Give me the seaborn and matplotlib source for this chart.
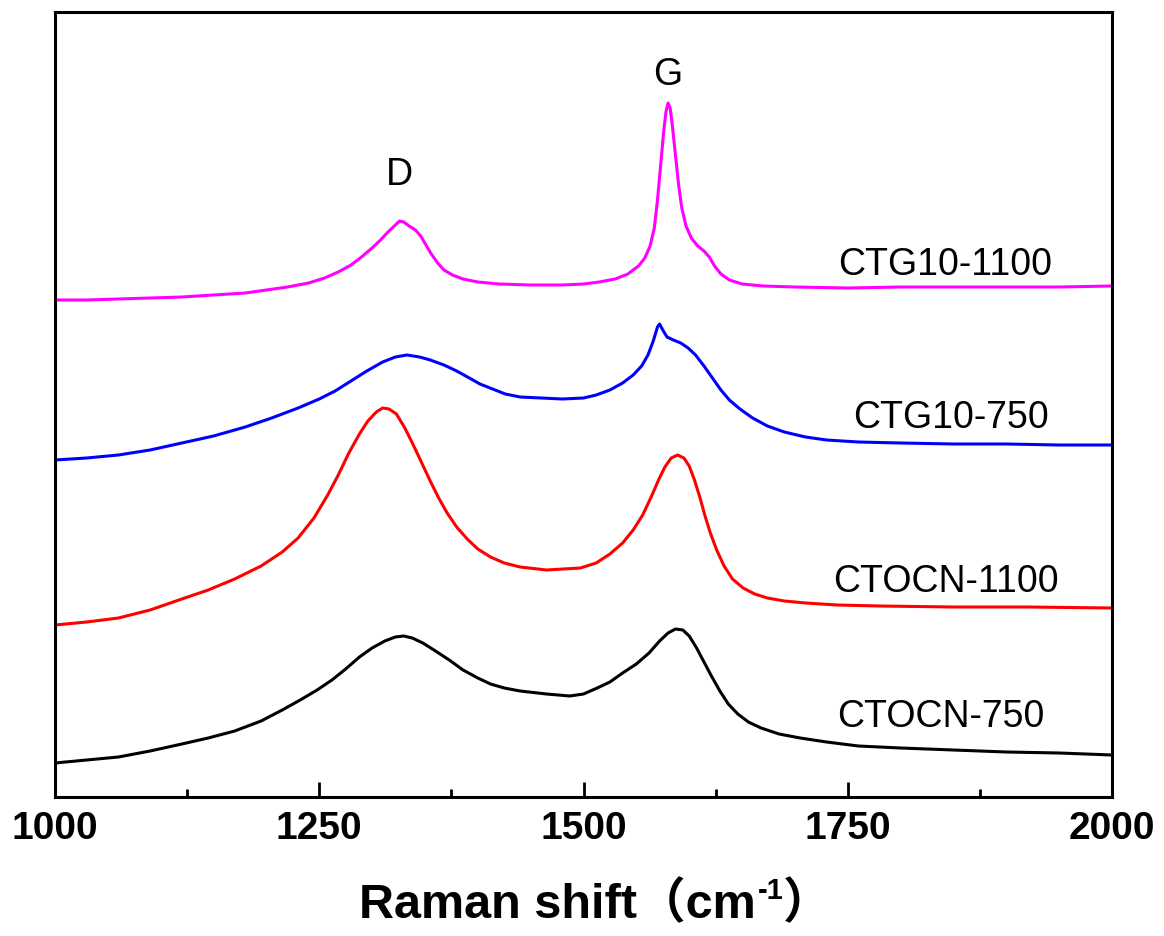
import numpy as np
import pandas as pd
import matplotlib
matplotlib.use("Agg")
import matplotlib.pyplot as plt
import seaborn as sns
from matplotlib.ticker import MultipleLocator, NullLocator

# ---------------- data (intensity in a.u. with stacking offsets) -------------
wn_ctg1100 = [1000, 1030, 1060, 1090, 1120, 1150, 1180, 1200, 1220, 1240,
              1255, 1268, 1280, 1290, 1300, 1308, 1315, 1321, 1326, 1330,
              1335, 1341, 1346, 1351, 1356, 1362, 1368, 1376, 1386, 1400,
              1420, 1450, 1480, 1500, 1515, 1530, 1542, 1552, 1558, 1563,
              1567, 1570, 1573, 1576, 1578, 1580, 1582, 1584, 1587, 1590,
              1593, 1597, 1602, 1608, 1614, 1619, 1624, 1630, 1638, 1650,
              1670, 1700, 1750, 1800, 1850, 1900, 1950, 2000]
int_ctg1100 = [497, 497, 498, 499, 500, 502, 504, 507, 510, 514,
               519, 525, 532, 540, 549, 557, 565, 571, 576, 575,
               571, 567, 561, 552, 543, 534, 527, 522, 518, 515,
               513, 512, 512, 513, 515, 518, 523, 531, 539, 551,
               569, 597, 632, 667, 685, 694, 689, 672, 642, 612,
               589, 571, 559, 551, 546, 540, 531, 523, 517, 513,
               511, 510, 509, 510, 510, 510, 510, 511]

wn_ctg750 = [1000, 1030, 1060, 1090, 1120, 1150, 1180, 1205, 1230, 1250,
             1265, 1280, 1295, 1310, 1322, 1333, 1345, 1355, 1368, 1380,
             1392, 1402, 1414, 1426, 1440, 1460, 1480, 1500, 1512, 1525,
             1537, 1547, 1555, 1561, 1566, 1570, 1572, 1575, 1579, 1585,
             1592, 1599, 1606, 1614, 1622, 1630, 1638, 1648, 1660, 1674,
             1690, 1710, 1730, 1760, 1800, 1850, 1900, 1950, 2000]
int_ctg750 = [337, 339, 342, 347, 354, 361, 370, 379, 389, 398,
              406, 416, 426, 435, 440, 442, 440, 437, 432, 426,
              419, 413, 408, 403, 400, 399, 398, 399, 402, 407,
              414, 422, 431, 442, 456, 470, 473, 467, 460, 457,
              454, 449, 442, 431, 419, 407, 397, 388, 379, 371,
              365, 360, 357, 355, 354, 353, 353, 352, 352]

wn_ctocn1100 = [1000, 1030, 1060, 1090, 1120, 1145, 1170, 1195, 1215, 1230,
                1245, 1258, 1268, 1278, 1288, 1296, 1304, 1310, 1316, 1323,
                1331, 1339, 1347, 1355, 1363, 1371, 1380, 1390, 1400, 1412,
                1425, 1440, 1465, 1497, 1512, 1525, 1537, 1547, 1556, 1564,
                1571, 1577, 1583, 1589, 1595, 1600, 1605, 1610, 1615, 1620,
                1626, 1633, 1641, 1651, 1662, 1674, 1690, 1710, 1740, 1780,
                1850, 1920, 2000]
int_ctocn1100 = [172, 175, 179, 187, 198, 207, 218, 231, 245, 259,
                 279, 302, 322, 344, 363, 376, 385, 389, 388, 383,
                 369, 352, 334, 316, 299, 284, 270, 258, 248, 240,
                 234, 230, 227, 229, 234, 243, 254, 267, 282, 300,
                 317, 330, 339, 342, 339, 331, 317, 300, 281, 264,
                 247, 231, 218, 209, 203, 199, 196, 194, 192, 191,
                 190, 190, 189]

wn_ctocn750 = [1000, 1030, 1060, 1090, 1120, 1145, 1170, 1195, 1215, 1232,
               1248, 1262, 1275, 1288, 1300, 1312, 1322, 1330, 1338, 1348,
               1360, 1373, 1386, 1400, 1412, 1425, 1440, 1465, 1487, 1500,
               1513, 1525, 1537, 1550, 1562, 1572, 1580, 1587, 1594, 1600,
               1607, 1614, 1621, 1629, 1637, 1646, 1656, 1668, 1685, 1705,
               1730, 1760, 1800, 1850, 1900, 1950, 2000]
int_ctocn750 = [34, 37, 40, 46, 53, 59, 66, 76, 87, 97,
                107, 117, 128, 140, 149, 156, 160, 161, 159, 154,
                146, 137, 127, 119, 113, 109, 106, 103, 101, 103,
                109, 115, 124, 133, 144, 156, 164, 168, 167, 161,
                149, 135, 121, 106, 93, 83, 75, 69, 63, 59,
                55, 51, 49, 47, 45, 44, 42]

samples = ["CTG10-1100", "CTG10-750", "CTOCN-1100", "CTOCN-750"]
colors = ["#FF00FF", "#0000FF", "#FF0000", "#000000"]
label_x = [1741, 1755, 1736, 1740]
label_y = [532, 379, 215, 80]
xticks = [1000, 1250, 1500, 1750, 2000]
peak_names = ["D", "G"]
peak_x = [1326, 1580]
peak_y = [622, 722]

# ---------------- build long table ----------------
frames = []
for name, wn, inten in zip(samples,
                           [wn_ctg1100, wn_ctg750, wn_ctocn1100, wn_ctocn750],
                           [int_ctg1100, int_ctg750, int_ctocn1100, int_ctocn750]):
    frames.append(pd.DataFrame({"wn": wn, "intensity": inten, "sample": name}))
df = pd.concat(frames, ignore_index=True)

# ---------------- style ----------------
sns.set_style("ticks")
plt.rcParams["font.family"] = ["Liberation Sans", "Noto Sans CJK SC", "DejaVu Sans"]
plt.rcParams["text.color"] = "black"
plt.rcParams["axes.labelcolor"] = "black"
plt.rcParams["xtick.color"] = "black"

fig = plt.figure(figsize=(11.64, 9.36), dpi=100)
ax = fig.add_axes([55 / 1164, 1 - 797 / 936, (1112 - 55) / 1164, (797 - 12) / 936])

sns.lineplot(data=df, x="wn", y="intensity", hue="sample", hue_order=samples,
             palette=dict(zip(samples, colors)), sort=False, estimator=None,
             linewidth=2.2, legend=False, ax=ax)

ax.set_xlim(1000, 2000)
ax.set_ylim(0, 785)
ax.set_xticks(xticks)
ax.set_xticklabels([str(t) for t in xticks], fontsize=28, fontweight="bold", color="black")
ax.xaxis.set_minor_locator(MultipleLocator(125))
ax.yaxis.set_major_locator(NullLocator())
ax.yaxis.set_minor_locator(NullLocator())
ax.tick_params(axis="x", which="major", direction="in", length=11, width=2, pad=10,
               top=False, colors="black")
ax.tick_params(axis="x", which="minor", direction="in", length=5.5, width=2, top=False,
               colors="black")
for s in ax.spines.values():
    s.set_visible(True)
    s.set_linewidth(2.2)
    s.set_color("black")
ax.set_xlabel("")
ax.set_ylabel("")

for name, px, py in zip(peak_names, peak_x, peak_y):
    ax.text(px, py, name, ha="center", va="center", fontsize=27, color="black")
for name, lx, ly in zip(samples, label_x, label_y):
    ax.text(lx, ly, name, ha="left", va="center", fontsize=27, color="black")

# ---------------- x-axis title: Raman shift（cm-1） ----------------
fam = ["Liberation Sans", "Noto Sans CJK SC", "DejaVu Sans"]
t1 = fig.text(0.3, 0.019, "Raman shift（cm", ha="left", va="baseline",
              fontsize=35, fontweight="bold", family=fam, color="black")
t2 = ax.annotate("-1", xy=(1.0, 1.0), xycoords=t1, xytext=(1, 3), textcoords="offset points",
                 ha="left", va="top", fontsize=21, fontweight="bold", family=fam,
                 color="black", annotation_clip=False)
t3 = ax.annotate("）", xy=(1.0, 0.0), xycoords=(t2, t1), xytext=(0, 0), textcoords="offset points",
                 ha="left", va="bottom", fontsize=35, fontweight="bold", family=fam,
                 color="black", annotation_clip=False)

fig.canvas.draw()
r = fig.canvas.get_renderer()
b1 = t1.get_window_extent(r)
b3 = t3.get_window_extent(r)
total_w = b3.x1 - b1.x0
center_px = (55 + 1112) / 2 + 12
t1.set_x((center_px - total_w / 2) / fig.bbox.width)

fig.savefig("out.png", dpi=100)
